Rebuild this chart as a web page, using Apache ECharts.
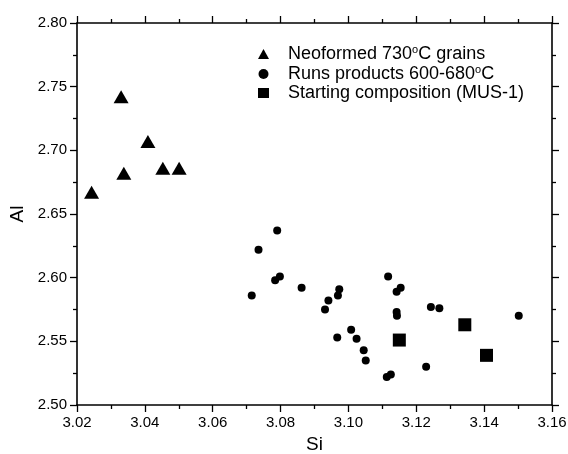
<!DOCTYPE html>
<html>
<head>
<meta charset="utf-8">
<script src="https://cdn.jsdelivr.net/npm/echarts@6/dist/echarts.min.js"></script>
<style>
  html, body { margin: 0; padding: 0; background: #fff; }
  #chart { width: 568px; height: 454px; }
</style>
</head>
<body>
<div id="chart"></div>
<script>
// Axis ranges and tick spacing
const xTicks = { min: 3.02, max: 3.16, step: 0.02 };
const yTicks = { min: 2.50, max: 2.80, step: 0.05 };

// Neoformed 730°C grains: [Si, Al]
const neoformed = [
  [3.0243, 2.667],
  [3.033, 2.742],
  [3.0338, 2.682],
  [3.0409, 2.707],
  [3.0453, 2.686],
  [3.0501, 2.686]
];

// Run products 600-680°C: [Si, Al]
const runProducts = [
  [3.0715, 2.586],
  [3.0735, 2.622],
  [3.0784, 2.598],
  [3.0798, 2.601],
  [3.0790, 2.637],
  [3.0862, 2.592],
  [3.0931, 2.575],
  [3.0941, 2.582],
  [3.0969, 2.586],
  [3.0973, 2.591],
  [3.0967, 2.553],
  [3.1008, 2.559],
  [3.1024, 2.552],
  [3.1045, 2.543],
  [3.1051, 2.535],
  [3.1113, 2.522],
  [3.1125, 2.524],
  [3.1117, 2.601],
  [3.1142, 2.589],
  [3.1154, 2.592],
  [3.1142, 2.573],
  [3.1143, 2.570],
  [3.1243, 2.577],
  [3.1268, 2.576],
  [3.1229, 2.530],
  [3.1502, 2.570]
];

// Starting composition (MUS-1): [Si, Al]
const startingComp = [
  [3.1150, 2.551],
  [3.1343, 2.563],
  [3.1407, 2.539]
];

const seriesNames = [
  'Neoformed 730oC grains',
  'Runs products 600-680oC',
  'Starting composition (MUS-1)'
];

const FONT = '"Liberation Sans", Arial, sans-serif';
const black = '#000';

function axisBase(showLabels) {
  return {
    axisLine: { show: true, onZero: false, lineStyle: { color: black, width: 1.6 } },
    axisTick: { show: true, inside: false, length: 7, lineStyle: { color: black, width: 1.3 } },
    minorTick: { show: true, splitNumber: 2, length: 4, lineStyle: { color: black, width: 1.3 } },
    splitLine: { show: false },
    axisLabel: {
      show: showLabels, color: black, fontFamily: FONT, fontSize: 15, margin: 10,
      formatter: v => Number(v).toFixed(2)
    }
  };
}

// Legend text: render the "o" after the temperature as a superscript
function legendText(name) {
  const parts = name.split(/(\d)o(C)/);
  if (parts.length === 1) return '{n|' + name + '}';
  return '{n|' + parts[0] + parts[1] + '}{s|o}{n|' + parts[2] + parts[3] + '}';
}

const chart = echarts.init(document.getElementById('chart'), null, { renderer: 'canvas' });

const pointStyle = { color: black, opacity: 1 };

chart.setOption({
  animation: false,
  backgroundColor: '#fff',
  grid: {
    left: 77, right: 16, top: 23, bottom: 49,
    containLabel: false, outerBoundsMode: 'none'
  },
  xAxis: [
    Object.assign(axisBase(true), {
      type: 'value', position: 'bottom',
      min: xTicks.min, max: xTicks.max, interval: xTicks.step,
      name: 'Si', nameLocation: 'middle', nameGap: 25,
      nameTextStyle: { color: black, fontFamily: FONT, fontSize: 19 }
    }),
    Object.assign(axisBase(false), {
      type: 'value', position: 'top',
      min: xTicks.min, max: xTicks.max, interval: xTicks.step
    })
  ],
  yAxis: [
    Object.assign(axisBase(true), {
      type: 'value', position: 'left',
      min: yTicks.min, max: yTicks.max, interval: yTicks.step,
      name: 'Al', nameLocation: 'middle', nameGap: 50,
      nameTextStyle: { color: black, fontFamily: FONT, fontSize: 19 }
    }),
    Object.assign(axisBase(false), {
      type: 'value', position: 'right',
      min: yTicks.min, max: yTicks.max, interval: yTicks.step
    })
  ],
  legend: {
    orient: 'vertical',
    left: 253, top: 39,
    itemWidth: 11, itemHeight: 10, itemGap: 1,
    data: [
      { name: seriesNames[0], icon: 'triangle' },
      { name: seriesNames[1], icon: 'circle' },
      { name: seriesNames[2], icon: 'rect' }
    ],
    formatter: legendText,
    textStyle: {
      color: black, fontFamily: FONT,
      padding: [0, 0, 0, 14],
      rich: {
        n: { fontSize: 18, fontFamily: FONT, color: black },
        s: { fontSize: 11, fontFamily: FONT, color: black, padding: [0, 0, 9, 0] }
      }
    }
  },
  series: [
    {
      name: seriesNames[0], type: 'scatter', symbol: 'triangle', symbolSize: [15, 13],
      itemStyle: pointStyle, data: neoformed
    },
    {
      name: seriesNames[1], type: 'scatter', symbol: 'circle', symbolSize: 8,
      itemStyle: pointStyle, data: runProducts
    },
    {
      name: seriesNames[2], type: 'scatter', symbol: 'rect', symbolSize: 13,
      itemStyle: pointStyle, data: startingComp
    }
  ]
});
</script>
</body>
</html>
